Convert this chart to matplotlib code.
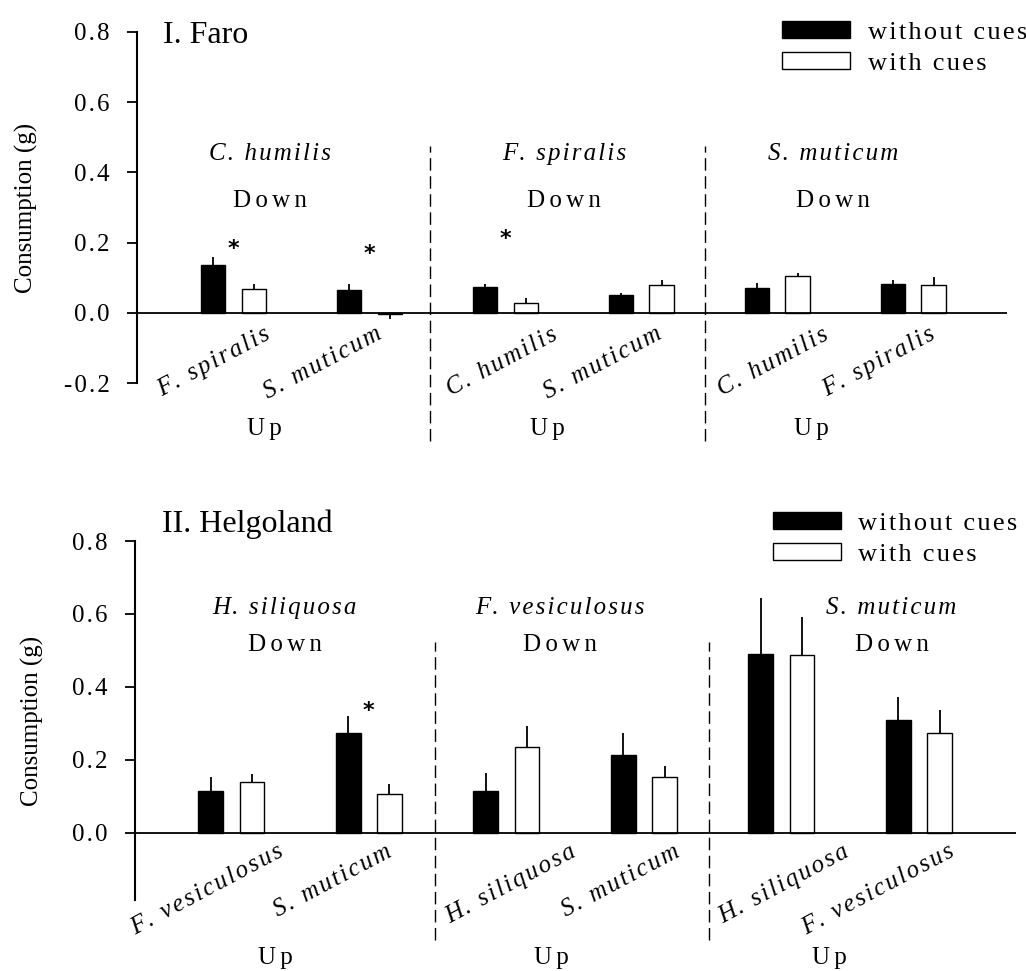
import matplotlib
matplotlib.use("Agg")
import matplotlib.pyplot as plt
from matplotlib.patches import Patch
import numpy as np

plt.rcParams['font.family'] = ['Liberation Serif', 'DejaVu Serif']

# ---- data ----
faro_groups = ["C. humilis", "F. spiralis", "S. muticum"]
faro_up = ["F. spiralis", "S. muticum", "C. humilis", "S. muticum", "C. humilis", "F. spiralis"]
faro_without = [0.137, 0.065, 0.074, 0.051, 0.072, 0.081]
faro_without_se = [0.023, 0.017, 0.009, 0.005, 0.013, 0.013]
faro_with = [0.068, -0.003, 0.029, 0.079, 0.105, 0.079]
faro_with_se = [0.014, 0.014, 0.014, 0.014, 0.009, 0.024]
faro_star_pairs = [0, 1, 2]
faro_star_y = [0.182, 0.168, 0.21]

helg_groups = ["H. siliquosa", "F. vesiculosus", "S. muticum"]
helg_up = ["F. vesiculosus", "S. muticum", "H. siliquosa", "S. muticum", "H. siliquosa", "F. vesiculosus"]
helg_without = [0.115, 0.274, 0.115, 0.214, 0.490, 0.310]
helg_without_se = [0.038, 0.046, 0.049, 0.060, 0.154, 0.063]
helg_with = [0.140, 0.107, 0.236, 0.153, 0.488, 0.274]
helg_with_se = [0.022, 0.027, 0.057, 0.031, 0.104, 0.063]
helg_star_pairs = [1]
helg_star_y = [0.334]

series_names = ["without cues", "with cues"]

NARROW = '\u200a'         # letter spacing for species names, legend, ticks
WIDE = '\u200a\u200a'     # letter spacing for Down / Up
FS = 18


def spaced(s, gap=NARROW):
    return gap.join(s)


def draw_panel(ax, title, groups, up, without, without_se, withc, withc_se,
               star_pairs, star_y, cfg):
    x = np.arange(len(without))
    w = 0.18
    off = 0.15
    ax.bar(x - off, without, w, color='black', edgecolor='black', lw=1, zorder=3)
    ax.bar(x + off, withc, w, color='white', edgecolor='black', lw=1, zorder=3)
    for xs, v, e in ((x - off, without, without_se), (x + off, withc, withc_se)):
        v = np.array(v)
        e = np.array(e)
        lo = np.where(v < 0, e, 0)
        hi = np.where(v >= 0, e, 0)
        ax.errorbar(xs, v, yerr=[lo, hi], fmt='none', ecolor='black',
                    elinewidth=1.3, capsize=0, zorder=2)

    ax.axhline(0, color='black', lw=1.3, zorder=4)
    ax.set_xlim(*cfg['xlim'])
    ax.set_ylim(*cfg['ylim'])
    for s in ('top', 'right', 'bottom'):
        ax.spines[s].set_visible(False)
    ax.spines['left'].set_linewidth(1.5)
    ax.set_xticks([])
    yt = cfg['yticks']
    ax.set_yticks(yt)
    ax.set_yticklabels([spaced(f"{t:.1f}") for t in yt])
    ax.tick_params(axis='y', direction='out', length=7.5, width=1.3,
                   labelsize=FS, pad=12)
    ax.set_ylabel("Consumption (g)", fontsize=18)
    ax.yaxis.set_label_coords(cfg['ylabel_x'], 0.5)

    # dashed dividers between donor groups
    for d in cfg['dividers']:
        ax.plot([d, d], cfg['div_y'], color='black', lw=1,
                dashes=(9, 4), clip_on=False)

    # group headings
    for g in range(len(groups)):
        gc = x[2 * g:2 * g + 2].mean()
        gx = gc + cfg['head_off'][g]
        ax.text(gx, cfg['species_y'], spaced(groups[g]), fontsize=FS,
                fontstyle='italic', ha='center', va='center')
        ax.text(gx, cfg['down_y'], spaced("Down", WIDE), fontsize=FS,
                ha='center', va='center')
        ax.text(gc + cfg['up_off'][g], cfg['up_y'], spaced("Up", WIDE), fontsize=FS,
                ha='center', va='center', clip_on=False)

    # rotated receiver labels
    for i, lab in enumerate(up):
        ax.text(x[i] + cfg['lab_off'][i], cfg['lab_y'], spaced(lab),
                fontsize=FS, fontstyle='italic', rotation=28,
                rotation_mode='anchor', ha='right', va='top', clip_on=False)

    # significance stars
    for p, y in zip(star_pairs, star_y):
        ax.text(x[p], y, '*', fontsize=16, fontweight='bold',
                family='DejaVu Sans', ha='center', va='center')

    ax.text(cfg['title_x'], cfg['title_y'], title, fontsize=23,
            ha='left', va='baseline', transform=ax.transAxes, clip_on=False)

    handles = [Patch(facecolor='black', edgecolor='black', lw=1),
               Patch(facecolor='white', edgecolor='black', lw=1)]
    ax.legend(handles, [spaced(n) for n in series_names], loc='upper left',
              bbox_to_anchor=cfg['leg_anchor'], bbox_transform=ax.figure.transFigure,
              frameon=False, fontsize=19, borderpad=0, borderaxespad=0,
              handlelength=2.56, handleheight=0.62, handletextpad=0.68,
              labelspacing=0.3)


fig = plt.figure(figsize=(10.26, 9.71), dpi=100)
W, H = 1026.0, 971.0

ax1 = fig.add_axes([137 / W, 1 - 383 / H, 870 / W, 351 / H])
ax2 = fig.add_axes([135 / W, 1 - 900 / H, 881 / W, 359 / H])

cfg1 = dict(xlim=(-0.71, 5.69), ylim=(-0.2, 0.8),
            yticks=[-0.2, 0.0, 0.2, 0.4, 0.6, 0.8], ylabel_x=-0.114,
            dividers=[1.445, 3.467], div_y=(-0.364, 0.475),
            head_off=[-0.23, -0.07, -0.09], up_off=[-0.27, -0.19, -0.25],
            species_y=0.452, down_y=0.319, up_y=-0.33,
            lab_off=[0.22, 0.04, 0.33, 0.1, 0.33, 0.11], lab_y=-0.03,
            title_x=(163 - 137) / 870, title_y=1 - (43 - 32) / 351,
            leg_anchor=(782 / W, 1 - 21 / H))
cfg2 = dict(xlim=(-0.70, 5.705), ylim=(-0.184, 0.8),
            yticks=[0.0, 0.2, 0.4, 0.6, 0.8], ylabel_x=-0.103,
            dividers=[1.483, 3.474], div_y=(-0.293, 0.523),
            head_off=[-0.11, -0.11, 0.30], up_off=[-0.18, -0.17, -0.15],
            species_y=0.616, down_y=0.515, up_y=-0.342,
            lab_off=[0.33, 0.12, 0.46, 0.21, 0.44, 0.21], lab_y=-0.022,
            title_x=(162 - 135) / 881, title_y=1 + (541 - 532) / 359,
            leg_anchor=(773 / W, 1 - 512 / H))

draw_panel(ax1, "I. Faro", faro_groups, faro_up, faro_without, faro_without_se,
           faro_with, faro_with_se, faro_star_pairs, faro_star_y, cfg1)
draw_panel(ax2, "II. Helgoland", helg_groups, helg_up, helg_without, helg_without_se,
           helg_with, helg_with_se, helg_star_pairs, helg_star_y, cfg2)

fig.savefig("out.png", dpi=100)
